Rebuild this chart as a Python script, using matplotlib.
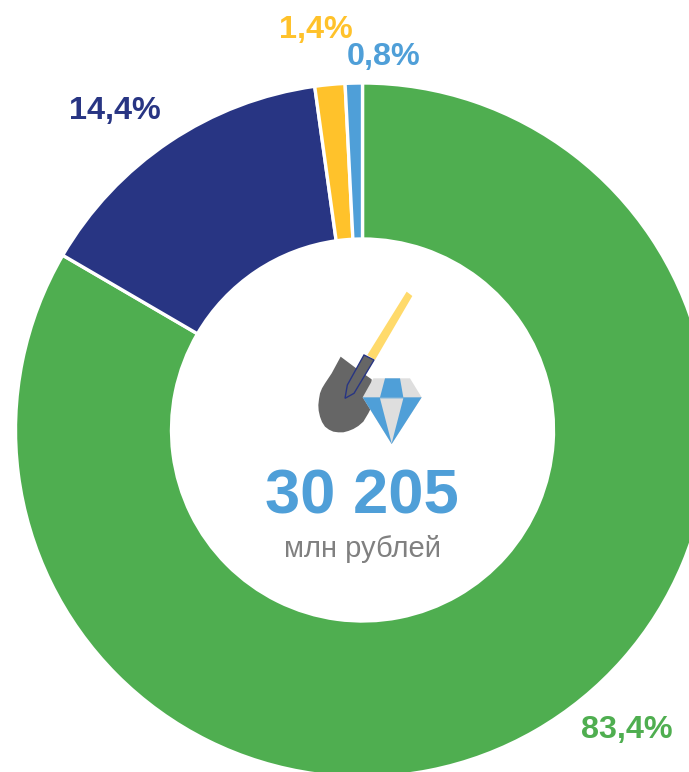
import matplotlib
matplotlib.use("Agg")
import matplotlib.pyplot as plt
from matplotlib.patches import Polygon

plt.rcParams['font.family'] = ['Liberation Sans', 'DejaVu Sans']

valores = [83.4, 14.4, 1.4, 0.8]
etiquetas = ['83,4%', '14,4%', '1,4%', '0,8%']
colores = ['#4FAE50', '#283583', '#FFC22B', '#4F9FD8']
total = '30 205'
unidad = 'млн рублей'

W, H = 689, 772
fig = plt.figure(figsize=(W / 100, H / 100), dpi=100)
ax = fig.add_axes([0, 0, 1, 1])

# el pie va en pixeles, con y invertida a mano
ax.pie(valores, colors=colores, startangle=90, counterclock=False,
       center=(362.5, H - 430), radius=347,
       wedgeprops=dict(width=347 - 191, edgecolor='white', linewidth=2.4))
ax.set_xlim(0, W)
ax.set_ylim(0, H)
ax.set_aspect('equal')
ax.axis('off')

pos_etiquetas = [(627, 730), (115, 111), (316, 30), (384, 57)]
for txt, (x, y), c in zip(etiquetas, pos_etiquetas, colores):
    ax.text(x, H - y, txt, color=c, fontsize=23.3, fontweight='bold', ha='center', va='center')

ax.text(362, H - 497, total, color='#4F9FD8', fontsize=45.5, fontweight='bold', ha='center', va='center')
ax.text(362, H - 549, unidad, color='#808080', fontsize=21, ha='center', va='center')


def zoom_xy(puntos):
    # coordenadas del icono, medidas sobre el recorte x3
    return [(290 + x / 3, H - (280 + y / 3)) for x, y in puntos]


def poly(puntos, color, **kw):
    ax.add_patch(Polygon(zoom_xy(puntos), closed=True, facecolor=color, edgecolor=kw.pop('edge', 'none'), **kw))


# pala
poly([(350, 35), (367, 48), (255, 240), (232, 225)], '#FFDA6B')
poly([(152, 230), (212, 275), (245, 298), (245, 380), (235, 400), (220, 425), (205, 438), (190, 447),
      (175, 453), (160, 457), (145, 457), (130, 455), (117, 449), (105, 440), (96, 426), (90, 410),
      (86, 392), (85, 375), (87, 357), (90, 340), (96, 325), (105, 310), (115, 295), (125, 280)], '#666666')
poly([(222, 225), (252, 240), (192, 340), (165, 355), (172, 315)], '#666666',
     edge='#283583', linewidth=1.0)

# diamante
poly([(250, 295), (360, 295), (395, 352), (305, 492), (218, 352)], '#DEDEDE')
poly([(218, 352), (395, 352), (305, 492)], '#4F9FD8')
poly([(270, 355), (340, 355), (305, 490)], '#DEDEDE')
poly([(285, 295), (330, 295), (340, 352), (270, 352)], '#4F9FD8')

fig.savefig('out.png', dpi=100, facecolor='white')
